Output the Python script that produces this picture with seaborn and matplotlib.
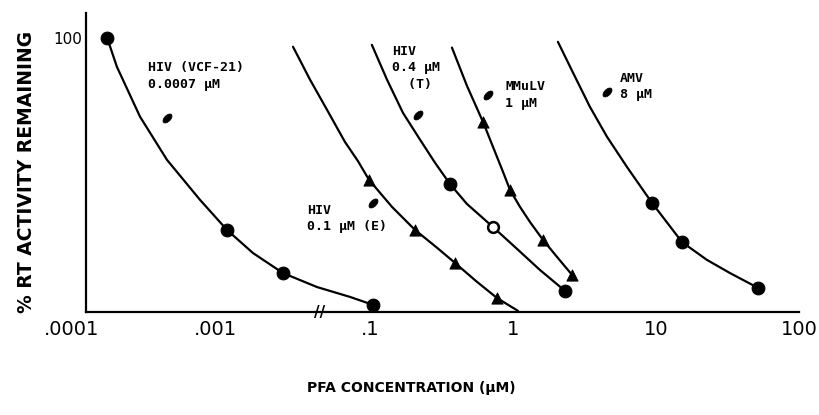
import numpy as np
import pandas as pd
import matplotlib
matplotlib.use("Agg")
import matplotlib.pyplot as plt
from matplotlib.path import Path
from matplotlib.transforms import Affine2D
import seaborn as sns

# --- values (PFA in uM, % RT activity) ---
# HIV (VCF-21), 0.0007 uM
vcf_line_x = [0.000176, 0.000206, 0.000299, 0.000461, 0.000785, 0.00143, 0.00309, 0.00753, 0.0207, 0.0552, 0.105]
vcf_line_y = [100, 89.4, 71.2, 55.5, 40.9, 29.9, 21.5, 14.2, 9.1, 5.5, 2.6]
vcf_pts_x = [0.000176, 0.00143, 0.00753, 0.105]
vcf_pts_y = [100, 29.9, 14.2, 2.6]

# HIV 0.1 uM (E)
hive_line_x = [0.01015, 0.01683, 0.0279, 0.0475, 0.070, 0.097, 0.1426, 0.2066, 0.290, 0.393, 0.551, 0.773, 1.084]
hive_line_y = [96.7, 84.7, 73.7, 62.0, 55.0, 48.2, 38.3, 29.9, 23.7, 17.9, 11.3, 5.1, 0.4]
hive_pts_x = [0.097, 0.2066, 0.393, 0.773]
hive_pts_y = [48.2, 29.9, 17.9, 5.1]

# HIV 0.4 uM (T)
hivt_line_x = [0.103, 0.1315, 0.170, 0.224, 0.285, 0.362, 0.476, 0.724, 1.067, 1.545, 2.31]
hivt_line_y = [97.4, 84.7, 72.6, 62.8, 54.4, 46.7, 39.4, 31.0, 23.0, 15.3, 7.7]
hivt_pts_x = [0.362, 2.31]
hivt_pts_y = [46.7, 7.7]
hivt_open_x = [0.724]
hivt_open_y = [31.0]

# MMuLV 1 uM
mmulv_line_x = [0.374, 0.476, 0.617, 0.748, 0.851, 0.953, 1.12, 1.315, 1.62, 2.03, 2.59]
mmulv_line_y = [96.4, 82.5, 69.3, 58.4, 51.1, 44.5, 38.3, 32.8, 26.3, 20.1, 13.5]
mmulv_pts_x = [0.617, 0.953, 1.62, 2.59]
mmulv_pts_y = [69.3, 44.5, 26.3, 13.5]

# AMV 8 uM
amv_line_x = [2.06, 2.63, 3.45, 4.54, 6.26, 9.37, 15.2, 22.7, 32.9, 51.7]
amv_line_y = [98.5, 87.2, 74.8, 63.9, 52.9, 39.8, 25.5, 19.0, 14.2, 8.8]
amv_pts_x = [9.37, 15.2, 51.7]
amv_pts_y = [39.8, 25.5, 8.8]

# curve labels: text, x, y (top-left corner)
label_texts = ["HIV (VCF-21)\n0.0007 \u00b5M", "HIV\n0.1 \u00b5M (E)", "HIV\n0.4 \u00b5M\n  (T)", "MMuLV\n1 \u00b5M", "AMV\n8 \u00b5M"]
label_x = [0.00034, 0.0154, 0.143, 0.88, 5.6]
label_y = [91.5, 39.5, 97.5, 84.5, 87.5]
# little key blobs next to each label
blob_x = [0.00046, 0.105, 0.217, 0.668, 4.54]
blob_y = [70.8, 39.8, 71.9, 79.2, 80.3]

tick_vals = [0.0001, 0.001, 0.1, 1, 10, 100]
tick_labels = [".0001", ".001", ".1", "1", "10", "100"]

# broken log axis: the .001 -> .1 stretch is squeezed
C = 77.5 / 143.0


def fwd(x):
    L = np.log10(np.clip(np.asarray(x, dtype=float), 1e-12, None))
    return np.where(L <= -3, L, np.where(L < -1, -3 + (L + 3) * C, -3 + 2 * C + (L + 1)))


def inv(u):
    u = np.asarray(u, dtype=float)
    L = np.where(u <= -3, u, np.where(u < -3 + 2 * C, -3 + (u + 3) / C, u + 3 - 2 * C - 1))
    return 10 ** L


sns.set_theme(style="white")
plt.rcParams['font.family'] = ['DejaVu Sans']
plt.rcParams['text.color'] = 'black'
plt.rcParams['xtick.color'] = 'black'
plt.rcParams['ytick.color'] = 'black'

fig = plt.figure(figsize=(8.19, 4.15), dpi=100)
ax = fig.add_axes([72 / 819, 103 / 415, (799 - 72) / 819, (402 - 103) / 415])
ax.set_xscale('function', functions=(fwd, inv))

lines = [(vcf_line_x, vcf_line_y), (hive_line_x, hive_line_y), (hivt_line_x, hivt_line_y),
         (mmulv_line_x, mmulv_line_y), (amv_line_x, amv_line_y)]
for lx, ly in lines:
    df = pd.DataFrame({"x": lx, "y": ly})
    sns.lineplot(data=df, x="x", y="y", color="black", linewidth=1.6, sort=False,
                 estimator=None, ax=ax)

circ = pd.DataFrame({"x": vcf_pts_x + hivt_pts_x + amv_pts_x,
                     "y": vcf_pts_y + hivt_pts_y + amv_pts_y})
sns.scatterplot(data=circ, x="x", y="y", marker="o", s=85, color="black",
                edgecolor="black", zorder=3, ax=ax)
tri = pd.DataFrame({"x": hive_pts_x + mmulv_pts_x, "y": hive_pts_y + mmulv_pts_y})
sns.scatterplot(data=tri, x="x", y="y", marker="^", s=65, color="black",
                edgecolor="black", zorder=3, ax=ax)
sns.scatterplot(x=hivt_open_x, y=hivt_open_y, marker="o", s=60, color="white",
                edgecolor="black", linewidth=1.8, zorder=3, ax=ax)

blob = Path.unit_circle().transformed(Affine2D().scale(1.0, 0.55).rotate_deg(45))
sns.scatterplot(x=blob_x, y=blob_y, marker=blob, s=45, color="black",
                edgecolor="black", zorder=3, ax=ax)

for t, x, y in zip(label_texts, label_x, label_y):
    ax.text(x, y, t, ha="left", va="top", family="DejaVu Sans Mono", fontweight="bold",
            fontsize=9.5, linespacing=1.35)

ax.set_xticks(tick_vals)
ax.set_xticklabels(tick_labels, fontsize=14)
ax.set_yticks([100])
ax.set_yticklabels(["100"], fontsize=13.5)
ax.set_xlim(1e-4, 100)
ax.set_ylim(0, 109)
ax.tick_params(axis="both", length=0)
ax.tick_params(axis="x", pad=6)
ax.tick_params(axis="y", pad=3)
ax.set_xlabel("")
ax.set_ylabel("")
for side in ["top", "right"]:
    ax.spines[side].set_visible(False)
for side in ["left", "bottom"]:
    ax.spines[side].set_color("black")
    ax.spines[side].set_linewidth(1.6)
# axis starts a little to the right of .0001
ax.spines["left"].set_position(("data", 1.25e-4))
ax.spines["bottom"].set_bounds(1.25e-4, 100)

# axis break mark
ax.text(0.0226, 0, "//", ha="center", va="center", fontsize=11, fontweight="bold",
        clip_on=False)

fig.text(27 / 819, 1 - 172 / 415, "% RT ACTIVITY REMAINING", rotation=90, ha="center",
         va="center", fontsize=13.5, fontweight="bold")
fig.text(411 / 819, 1 - 388 / 415, "PFA CONCENTRATION (\u00b5M)", ha="center", va="center",
         fontsize=10, fontweight="bold")

fig.savefig("out.png", dpi=100)
